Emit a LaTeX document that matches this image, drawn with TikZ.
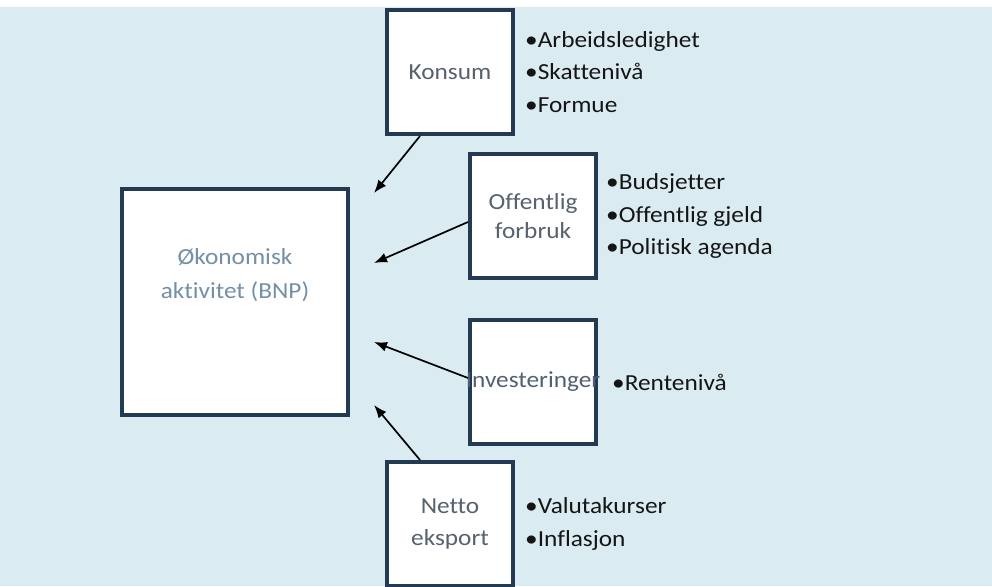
\documentclass[tikz,border=0pt]{standalone}
\usepackage{fontspec}
\setmainfont{Carlito}[FakeStretch=1.1,Ligatures=NoCommon]
\usepackage{tikz}
\usetikzlibrary{arrows.meta,positioning,calc}
\definecolor{bg}{HTML}{DAEBF1}
\definecolor{navy}{HTML}{243A52}
\definecolor{boxgray}{HTML}{56626E}
\definecolor{bnpblue}{HTML}{7390A6}
\definecolor{textblack}{HTML}{151515}

\begin{document}
\begin{tikzpicture}[
  x=1pt,y=-1pt,
  font=\fontsize{23}{32.5}\selectfont,
  box/.style={draw=navy,fill=white,line width=4pt,minimum width=126pt,minimum height=124pt,align=center,text=boxgray,inner sep=2pt},
  bigbox/.style={draw=navy,fill=white,line width=4pt,minimum width=226pt,minimum height=226pt},
  list/.style={align=left,inner sep=0pt,text=textblack},
  arr/.style={-{Latex[length=13pt,width=10pt]},line width=1.7pt,draw=black}
]
\useasboundingbox (0,0) rectangle (992,586);
\fill[bg] (0,7) rectangle (992,586);
\node[box] (konsum) at (450,72) {Konsum};
\node[box] (off) at (533,216) {Offentlig\\[-3pt]forbruk};
\node[bigbox] (bnp) at (235,302) {};
\node[box] (inv) at (533,382) {};
\node[box] (netto) at (450,524) {Netto\\eksport};
\node[text=bnpblue,align=center] (bnptxt) at ([yshift=27pt]bnp.center) {Økonomisk\\[2pt]aktivitet (BNP)};
\node[text=navy!80] (invtxt) at (inv.center) {Investeringer};
\node[list,right=10pt of konsum] (konsumlist) {\textbullet Arbeidsledighet\\\textbullet Skattenivå\\\textbullet Formue};
\node[list,right=8pt of off] (offlist) {\textbullet Budsjetter\\\textbullet Offentlig gjeld\\\textbullet Politisk agenda};
\node[list,right=14pt of inv] (invlist) {\textbullet Rentenivå};
\node[list,right=10pt of netto] (nettolist) {\textbullet Valutakurser\\\textbullet Inflasjon};
% arrow tips towards BNP
\coordinate (t1) at (374,193);
\coordinate (t2) at (374,263);
\coordinate (t3) at (374,342);
\coordinate (t4) at (374,405);
\draw[arr] ([xshift=-30pt]konsum.south) -- (t1);
\draw[arr] ([yshift=-6pt]off.west) -- (t2);
\draw[arr] ([yshift=4pt]inv.west) -- (t3);
\draw[arr] ([xshift=-30pt]netto.north) -- (t4);
\end{tikzpicture}
\end{document}
